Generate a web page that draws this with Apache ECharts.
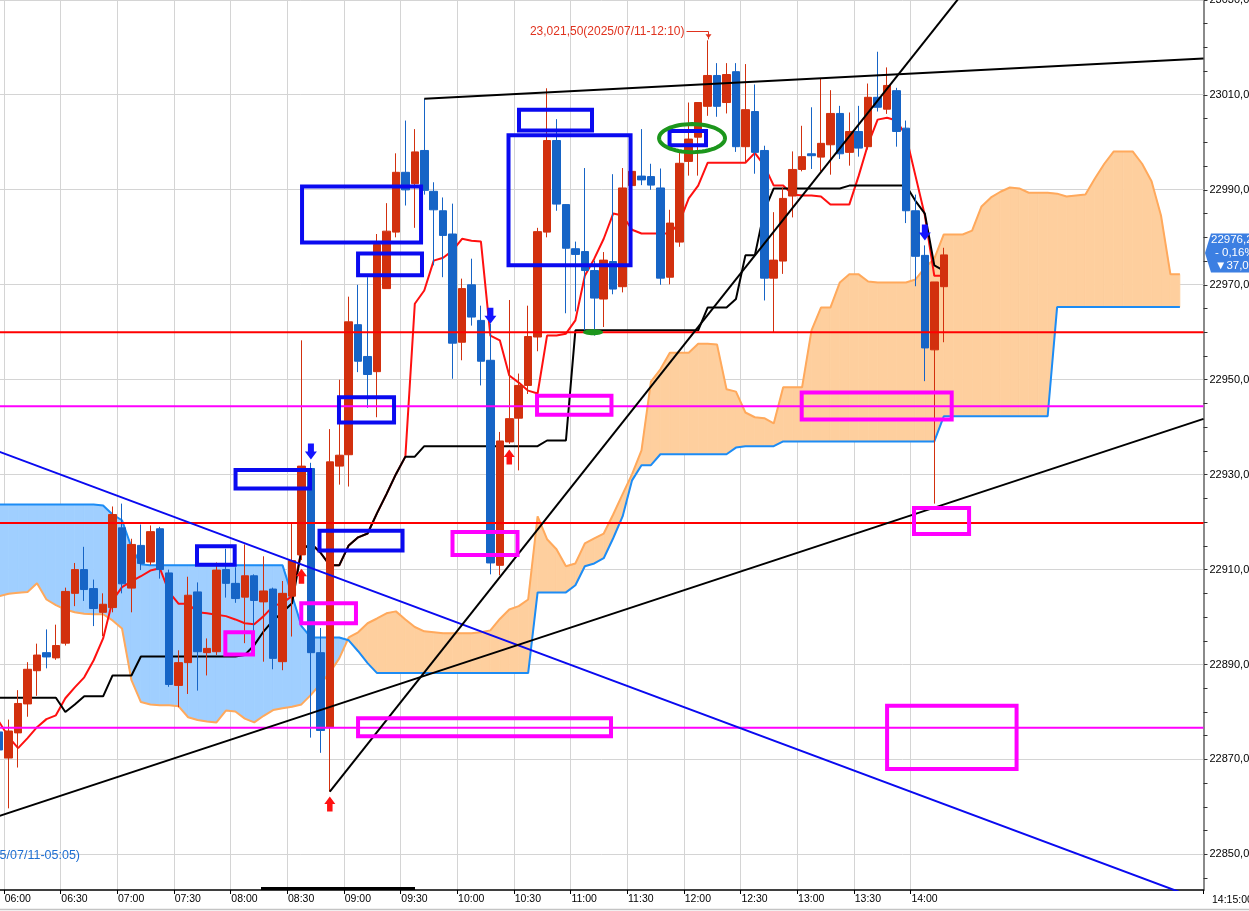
<!DOCTYPE html>
<html><head><meta charset="utf-8">
<script src="https://cdn.jsdelivr.net/npm/echarts@6/dist/echarts.min.js"></script>
<style>html,body{margin:0;padding:0;background:#fff;overflow:hidden}#c{width:1249px;height:911px}</style>
</head><body><div id="c"></div>
<script>
// ---------- DATA ----------
// categories: 5-minute bars, 05:55 .. 16:30 (128 slots)
const times = [];
for (let m = 355; m < 355 + 128 * 5; m += 5) {
  times.push(String(Math.floor(m / 60)).padStart(2, '0') + ':' + String(m % 60).padStart(2, '0'));
}
// candles [open, close, low, high], 05:55 .. 14:15
const candleOHLC = [
[22875.8,22872.0,22870.0,22877.5],[22870.3,22876.0,22859.7,22878.4],[22875.6,22881.8,22868.3,22884.6],
[22881.7,22889.0,22879.0,22890.5],[22888.7,22892.0,22883.4,22894.4],[22892.5,22891.6,22889.2,22897.4],
[22891.4,22894.0,22891.0,22898.4],[22894.5,22905.4,22894.0,22906.2],[22905.0,22910.0,22902.3,22911.4],
[22910.0,22905.8,22903.4,22914.8],[22906.0,22901.8,22898.1,22907.9],[22901.0,22902.7,22896.0,22905.0],
[22902.0,22921.6,22901.0,22923.3],[22918.8,22907.0,22905.0,22923.9],[22906.1,22915.3,22901.0,22916.5],
[22915.1,22911.3,22909.9,22919.5],[22911.6,22918.0,22911.0,22919.3],[22918.6,22910.0,22908.1,22919.0],
[22909.3,22885.8,22885.3,22910.0],[22885.6,22890.4,22881.0,22893.0],[22890.4,22904.6,22883.8,22908.5],
[22905.3,22892.7,22884.5,22907.3],[22892.5,22893.4,22887.7,22895.5],[22892.7,22909.9,22892.0,22911.5],
[22910.0,22907.1,22904.1,22914.4],[22907.1,22903.9,22903.0,22910.5],[22904.2,22908.7,22894.5,22915.3],
[22908.7,22903.5,22897.0,22909.0],[22903.2,22905.5,22890.6,22912.8],[22905.9,22891.3,22889.0,22906.2],
[22890.6,22905.0,22888.8,22907.6],[22904.4,22911.9,22895.9,22919.8],[22913.1,22931.8,22912.0,22958.3],
[22931.3,22892.5,22874.6,22932.5],[22892.5,22876.1,22871.4,22897.7],[22876.7,22932.7,22863.2,22939.6],
[22931.8,22934.1,22927.9,22950.0],[22934.2,22962.2,22927.5,22967.5],[22961.6,22953.9,22951.6,22970.0],
[22954.9,22951.1,22944.1,22971.6],[22951.7,22978.5,22942.1,22980.7],[22969.2,22981.3,22969.2,22987.2],
[22981.1,22993.7,22980.0,22997.7],[22993.7,22990.0,22986.7,23004.6],[22991.3,22998.0,22982.0,23002.8],
[22998.3,22989.9,22989.0,23009.2],[22989.7,22985.8,22974.1,22991.6],[22985.6,22980.4,22971.6,22988.4],
[22980.7,22957.7,22950.2,22987.1],[22957.9,22969.2,22954.1,22971.3],[22970.0,22963.2,22961.4,22975.5],
[22962.5,22953.9,22948.8,22965.6],[22954.1,22911.4,22909.0,22961.8],[22910.9,22937.1,22908.8,22939.0],
[22936.9,22941.8,22936.5,22966.8],[22941.9,22948.8,22930.9,22951.3],[22948.8,22959.1,22947.0,22965.6],
[22959.0,22981.2,22956.0,22982.0],[22981.1,23000.4,22980.0,23011.4],[23000.4,22987.0,22985.6,23004.9],
[22986.9,22977.7,22964.0,22987.0],[22977.6,22976.4,22964.4,22979.1],[22977.0,22973.0,22960.4,22994.6],
[22973.0,22967.2,22959.3,22975.1],[22967.0,22975.2,22961.1,22976.9],[22974.9,22969.1,22968.0,22993.3],
[22969.6,22990.4,22968.4,22994.6],[22990.9,22993.9,22990.0,22994.5],[22992.9,22992.1,22991.0,23002.8],
[22992.8,22991.0,22990.0,22995.5],[22990.4,22971.4,22970.0,22994.5],[22971.6,22983.0,22970.1,22985.8],
[22979.0,22995.6,22978.0,22998.0],[22996.0,23000.7,22993.0,23008.4],[23001.1,23008.4,22993.0,23008.4],
[23007.6,23014.1,23005.6,23021.5],[23014.1,23007.6,23005.4,23016.7],[23008.4,23014.3,23006.1,23016.7],
[23014.9,22999.1,22998.0,23016.7],[22999.1,23006.9,22995.8,23016.5],[23006.5,22997.9,22993.4,23012.2],
[22998.3,22971.4,22966.7,22999.3],[22971.4,22975.2,22960.0,22985.3],[22975.0,22988.2,22972.3,22990.5],
[22988.7,22994.3,22984.2,22998.1],[22994.3,22997.0,22993.9,23003.5],[22997.6,22997.2,22994.4,23007.4],
[22996.9,22999.8,22993.9,23013.4],[22999.5,23006.1,22993.2,23011.0],[23006.1,22997.6,22996.5,23007.7],
[22997.9,23002.3,22995.1,23006.3],[23002.3,22998.8,22997.0,23007.7],[22999.1,23009.5,22998.5,23012.4],
[23009.5,23007.4,23006.5,23019.1],[23007.0,23012.0,23006.0,23015.8],[23010.9,23002.3,22999.1,23011.5],
[23003.0,22985.6,22983.0,23004.6],[22985.6,22976.0,22969.7,22989.0],[22976.2,22956.7,22949.7,22978.3],
[22956.3,22970.6,22923.9,22970.6],[22969.6,22976.3,22957.9,22977.8]
];
// conversion line (red)
const tenkan = [
22877.9,22874.7,22872.4,22874.5,22876.8,22878.5,22879.3,22882.9,22885.2,22887.3,22890.9,22895.5,
22903.5,22906.3,22907.5,22908.6,22909.8,22910.3,22905.2,22902.8,22902.8,22901.0,22900.8,22900.5,
22900.2,22899.5,22898.7,22898.5,22900.2,22902.3,22903.0,22904.4,22914.1,22915.5,22913.6,22910.9,
22910.9,22915.1,22916.8,22917.6,22921.9,22925.9,22930.1,22933.8,22966.0,22968.8,22975.1,22975.7,
22977.2,22979.7,22979.3,22979.1,22959.3,22958.3,22950.9,22949.4,22947.7,22947.1,22959.3,22959.3,
22959.7,22962.5,22971.9,22975.5,22979.7,22985.0,22984.6,22981.6,22980.8,22980.8,22980.8,22980.8,
22983.1,22988.2,22990.9,22995.7,22995.7,22995.7,22995.7,22995.7,22997.8,22995.1,22990.9,22990.9,
22989.0,22988.8,22988.8,22988.6,22986.9,22986.9,22986.9,22993.0,22999.7,23004.8,23005.2,23004.6,
23001.4,22993.0,22984.6,22971.9,22971.9
];
// base line (black)
const kijun = [
22883.0,22883.0,22883.0,22883.0,22883.0,22883.0,22883.0,22880.0,22881.6,22883.3,22883.3,22883.3,
22887.7,22887.7,22887.7,22891.7,22891.7,22891.7,22891.7,22891.7,22891.7,22891.7,22891.7,22891.7,
22891.7,22891.7,22892.0,22894.1,22897.0,22899.3,22901.0,22902.9,22914.1,22915.5,22913.6,22910.9,
22910.9,22915.1,22916.8,22917.6,22921.9,22925.9,22930.1,22933.8,22933.8,22936.0,22936.0,22936.0,
22936.0,22936.0,22936.0,22936.0,22936.0,22936.0,22936.0,22936.0,22936.0,22936.0,22937.2,22937.2,
22937.2,22960.4,22960.4,22960.4,22960.4,22960.4,22960.4,22960.4,22960.4,22960.4,22960.4,22960.4,
22960.4,22960.4,22960.4,22965.2,22965.2,22965.2,22967.0,22976.2,22976.2,22985.6,22990.3,22990.3,
22990.3,22990.3,22990.3,22990.3,22990.3,22990.3,22990.9,22990.9,22990.9,22990.9,22990.9,22990.9,
22990.9,22987.7,22985.0,22974.1,22973.0
];
// leading span (blue line)
const spanBlue = [
22923.7,22923.7,22923.7,22923.7,22923.7,22923.7,22923.7,22923.7,22923.7,22923.7,22923.7,
22923.5,22921.6,22920.4,22914.7,22911.1,
22910.9,22910.9,22910.9,22910.9,22910.9,22910.9,22910.9,22910.9,22910.9,22910.9,22910.9,22910.9,22910.9,22910.9,22910.9,
22904.6,22898.1,22895.7,22895.7,22895.7,22895.7,22895.1,22892.8,22890.3,
22888.2,22888.2,22888.2,22888.2,22888.2,22888.2,22888.2,22888.2,22888.2,22888.2,22888.2,22888.2,22888.2,22888.2,22888.2,22888.2,22888.2,
22905.2,22905.2,22905.2,22905.2,
22906.7,22910.7,22911.3,22912.4,22916.6,22921.2,22928.8,22932.0,22932.0,
22934.3,22934.3,22934.3,22934.3,22934.3,22934.3,22934.3,22934.3,
22935.7,22936.0,22936.0,22936.0,22936.0,
22937.0,22937.0,22937.0,22937.0,22937.0,22937.0,22937.0,22937.0,22937.0,22937.0,22937.0,22937.0,22937.0,22937.0,22937.0,22937.0,22937.0,
22942.3,22942.3,22942.3,22942.3,22942.3,22942.3,22942.3,22942.3,22942.3,22942.3,22942.3,22942.3,
22965.3,22965.3,22965.3,22965.3,22965.3,22965.3,22965.3,22965.3,22965.3,22965.3,22965.3,22965.3,22965.3,22965.3
];
// leading span (orange line)
const spanOrange = [
22904.4,22904.9,22905.1,22905.3,22907.1,22903.7,22902.5,22901.6,22901.0,22900.7,22900.6,22900.6,
22899.3,22897.6,22886.7,22882.1,22881.6,22881.4,22881.4,22881.2,
22878.9,22878.3,22878.0,22877.8,22880.3,22880.1,22878.6,22877.8,22879.2,22880.4,22880.8,22881.1,22881.6,
22883.6,22885.9,22888.3,22891.3,22895.7,22896.8,22898.7,22899.7,22900.8,22901.2,22899.5,22897.9,22897.0,22896.8,
22896.6,22896.6,22896.6,22896.6,22896.8,22897.2,22899.6,22901.6,22902.3,22903.7,
22921.2,22916.4,22914.3,22910.7,22911.3,22915.5,22916.6,22917.6,22921.6,22925.9,22930.1,22935.1,22949.6,22952.2,22955.7,22955.7,22955.7,22957.6,22957.6,22957.4,
22948.0,22947.5,22943.1,22942.1,22941.9,22940.8,22948.4,22948.4,22948.4,22960.4,22965.2,22965.2,22970.5,22972.2,22972.2,22970.7,22970.5,22970.5,22970.5,22970.5,
22971.1,22973.6,22975.5,22980.6,22980.6,22980.6,22981.4,22986.5,22988.4,22989.6,22990.5,22990.3,22989.4,22989.4,22989.4,22989.2,22988.6,22988.8,22989.0,22992.4,
22995.5,22998.1,22998.1,22998.1,22995.5,22991.8,22984.6,22972.2,22972.2
];
// y tick labels and minor ticks
const yLabels = [22850,22870,22890,22910,22930,22950,22970,22990,23010,23030];
const yMinor = [22845,22850,22855,22860,22865,22870,22875,22880,22885,22890,22895,22900,22905,22910,22915,22920,
22925,22930,22935,22940,22945,22950,22955,22960,22965,22970,22975,22980,22985,22990,22995,23000,23005,23010,23015,23020,23025,23030];
// drawn annotations (x in bar offsets from 06:00, y in price)
const levelsRed = [22960.0, 22919.8];
const levelsMagenta = [22944.4, 22876.7];
const trendBlue = [[-1.5, 22935.2], [126.5, 22840.2]];
const trendLow = [[-1.5, 22857.75], [126.5, 22941.75]];
const trendSteep = [[34, 22863.2], [101, 23031.4]];
const trendTop = [[44, 23009.2], [126.5, 23017.7]];
const boxesBlue = [
[31.06,22990.7,43.66,22978.9],[36.99,22976.6,43.76,22972.0],[34.97,22946.3,40.80,22941.0],
[24.02,22931.0,31.90,22927.1],[32.91,22918.2,41.70,22914.0],[19.94,22914.9,23.93,22911.0],
[52.92,23001.5,65.84,22974.1],[54.03,23006.9,61.76,23002.5],[69.97,23002.4,73.83,22999.4]
];
const boxesMagenta = [
[22.94,22896.8,25.87,22892.1],[30.98,22902.9,36.77,22898.7],[36.99,22878.7,63.77,22874.9],
[46.99,22917.9,53.87,22913.1],[55.94,22946.6,63.82,22942.6],[83.96,22947.3,99.84,22941.6],
[95.85,22923.0,101.68,22917.5],[93.0,22881.3,106.71,22868.0]
];
const greenRing = [[72.35, 23000.9, 3.49, 2.95]];
const greenDot = [[61.87, 22960.0, 1.06, 0.63]];
const arrowsUp = [[31, 22908.6], [34, 22860.6], [53, 22933.7]];
const arrowsDown = [[32, 22934.9], [51, 22963.5], [97, 22981.0]];
const highMark = [[74, 23021.5]];
const highLabel = '23,021,50(2025/07/11-12:10)';
const lowLabel = '(2025/07/11-05:05)';
const lastPriceLines = ['22976,25', '- 0,16%', '\u25BC37,00'];
const axisEndLabel = '14:15:00';

// ---------- CHART ----------
const FONT = "'Liberation Sans', Arial, sans-serif";
const chart = echarts.init(document.getElementById('c'));
const showK = (idx) => { const k = idx - 1; return k >= 0 && k <= 96 && k % 6 === 0; };
const UPC = '#d2300e', DNC = '#1664c6';
const BLUEFILL = '#a0cfff', ORANGEFILL = '#fecf9e';

function ellipsePts(cx, cy, rx, ry) {
  const pts = [];
  for (let i = 0; i < 60; i++) { const a = i / 60 * Math.PI * 2; pts.push([cx + rx * Math.cos(a), cy + ry * Math.sin(a)]); }
  return pts;
}
function boxRender(color) {
  return function (params, api) {
    const p1 = api.coord([api.value(0), api.value(1)]);
    const p2 = api.coord([api.value(2), api.value(3)]);
    return { type: 'rect', shape: { x: Math.min(p1[0], p2[0]), y: Math.min(p1[1], p2[1]), width: Math.abs(p2[0] - p1[0]), height: Math.abs(p2[1] - p1[1]) },
      style: { fill: 'rgba(0,0,0,0)', stroke: color, lineWidth: 4 } };
  };
}
function lineSeries(data, color, width, z) {
  return { type: 'line', xAxisIndex: 1, yAxisIndex: 0, data: data, symbol: 'none', silent: true, z: z,
    lineStyle: { color: color, width: width }, clip: true, animation: false };
}
const UP_PATH = 'path://M5.5,0 L11,7.5 L8.25,7.5 L8.25,15 L2.75,15 L2.75,7.5 L0,7.5 Z';
const DN_PATH = 'path://M2.75,0 L8.25,0 L8.25,7.5 L11,7.5 L5.5,15 L0,7.5 L2.75,7.5 Z';

const series = [
  { type: 'custom', name: 'hgrid', xAxisIndex: 0, yAxisIndex: 0, z: 1, silent: true, clip: false,
    data: yLabels.map(v => [0, v]), encode: { x: 0, y: 1 },
    renderItem: (params, api) => {
      const y = Math.round(api.coord([0, api.value(1)])[1] - 0.5) + 0.5;
      const cs = params.coordSys;
      return { type: 'line', shape: { x1: cs.x, y1: y, x2: cs.x + cs.width, y2: y }, style: { stroke: '#d4d4d4', lineWidth: 1 } };
    } },
  { type: 'custom', name: 'cloud', xAxisIndex: 0, yAxisIndex: 0, z: 2, silent: true, clip: true,
    data: spanBlue.map((v, i) => [i, v, spanOrange[i]]), encode: { x: 0, y: [1, 2] },
    renderItem: (params, api) => {
      const i = params.dataIndex;
      if (i + 1 >= spanBlue.length) return;
      const a0 = spanBlue[i], a1 = spanBlue[i + 1], b0 = spanOrange[i], b1 = spanOrange[i + 1];
      const A0 = api.coord([i, a0]), A1 = api.coord([i + 1, a1]), B0 = api.coord([i, b0]), B1 = api.coord([i + 1, b1]);
      const d0 = a0 - b0, d1 = a1 - b1;
      const polys = [];
      if (d0 * d1 >= 0) polys.push({ pts: [A0, A1, B1, B0], up: (d0 + d1) >= 0 });
      else {
        const t = d0 / (d0 - d1);
        const X = [A0[0] + t * (A1[0] - A0[0]), A0[1] + t * (A1[1] - A0[1])];
        polys.push({ pts: [A0, X, B0], up: d0 > 0 });
        polys.push({ pts: [X, A1, B1], up: d1 > 0 });
      }
      return { type: 'group', children: polys.map(p => ({ type: 'polygon', shape: { points: p.pts },
        style: { fill: p.up ? BLUEFILL : ORANGEFILL, stroke: p.up ? BLUEFILL : ORANGEFILL, lineWidth: 0.8 } })) };
    } },
  { type: 'line', name: 'spanOrange', data: spanOrange, symbol: 'none', silent: true, z: 3, lineStyle: { color: '#ffa95c', width: 2 } },
  { type: 'line', name: 'spanBlue', data: spanBlue, symbol: 'none', silent: true, z: 3, lineStyle: { color: '#1c8cf5', width: 2 } },
  { type: 'line', name: 'tenkan', data: tenkan, symbol: 'none', silent: true, z: 4, lineStyle: { color: '#ff1010', width: 2 } },
  { type: 'line', name: 'kijun', data: kijun, symbol: 'none', silent: true, z: 4, lineStyle: { color: '#000000', width: 2 } },
  { type: 'candlestick', name: 'price', data: candleOHLC, barWidth: 8, silent: true, z: 5,
    itemStyle: { color: UPC, color0: DNC, borderColor: UPC, borderColor0: DNC, borderWidth: 1 } },
];
levelsRed.forEach(v => series.push(lineSeries([[-1.5, v], [126.5, v]], '#ff0000', 2, 6)));
levelsMagenta.forEach(v => series.push(lineSeries([[-1.5, v], [126.5, v]], '#ff00ff', 2, 6)));
series.push(lineSeries(trendBlue, '#0a0af0', 2, 7));
series.push(lineSeries(trendLow, '#000000', 2, 7));
series.push(lineSeries(trendSteep, '#000000', 2, 7));
series.push(lineSeries(trendTop, '#000000', 2, 7));
series.push({ type: 'custom', name: 'boxesBlue', xAxisIndex: 1, yAxisIndex: 0, z: 8, silent: true, clip: false,
  data: boxesBlue, encode: { x: [0, 2], y: [1, 3] }, renderItem: boxRender('#0a0af0') });
series.push({ type: 'custom', name: 'boxesMagenta', xAxisIndex: 1, yAxisIndex: 0, z: 8, silent: true, clip: false,
  data: boxesMagenta, encode: { x: [0, 2], y: [1, 3] }, renderItem: boxRender('#ff00ff') });
series.push({ type: 'custom', name: 'ring', xAxisIndex: 1, yAxisIndex: 0, z: 8, silent: true, clip: false,
  data: greenRing, encode: { x: 0, y: 1 },
  renderItem: (params, api) => { const c = api.coord([api.value(0), api.value(1)]); const s = api.size([api.value(2), api.value(3)]);
    return { type: 'polygon', shape: { points: ellipsePts(c[0], c[1], s[0], s[1]) }, style: { fill: 'rgba(0,0,0,0)', stroke: '#1c961c', lineWidth: 4 } }; } });
series.push({ type: 'custom', name: 'dot', xAxisIndex: 1, yAxisIndex: 0, z: 8, silent: true, clip: false,
  data: greenDot, encode: { x: 0, y: 1 },
  renderItem: (params, api) => { const c = api.coord([api.value(0), api.value(1)]); const s = api.size([api.value(2), api.value(3)]);
    return { type: 'polygon', shape: { points: ellipsePts(c[0], c[1], s[0], s[1]) }, style: { fill: '#1c961c' } }; } });
series.push({ type: 'scatter', name: 'up', xAxisIndex: 1, yAxisIndex: 0, z: 9, silent: true, data: arrowsUp,
  symbol: UP_PATH, symbolSize: [11, 15], itemStyle: { color: '#ff1212', opacity: 1 } });
series.push({ type: 'scatter', name: 'down', xAxisIndex: 1, yAxisIndex: 0, z: 9, silent: true, data: arrowsDown,
  symbol: DN_PATH, symbolSize: [12, 16], itemStyle: { color: '#1414ff', opacity: 1 } });
series.push({ type: 'custom', name: 'high', xAxisIndex: 1, yAxisIndex: 0, z: 9, silent: true, clip: false,
  data: highMark, encode: { x: 0, y: 1 },
  renderItem: (params, api) => {
    const p = api.coord([api.value(0), api.value(1)]);
    const x = Math.round(p[0]) + 0.5, yl = Math.round(p[1] - 9) + 0.5;
    const col = '#e0321e';
    return { type: 'group', children: [
      { type: 'polyline', shape: { points: [[x - 22, yl], [x, yl], [x, p[1] - 1]] }, style: { stroke: col, lineWidth: 1, fill: null } },
      { type: 'polygon', shape: { points: [[x - 3, p[1] - 6], [x + 3, p[1] - 6], [x, p[1] - 2]] }, style: { fill: col } },
      { type: 'text', style: { text: highLabel, x: x - 24, y: yl, align: 'right', verticalAlign: 'middle', textAlign: 'right', textVerticalAlign: 'middle',
        fill: col, font: "12px 'Liberation Sans', Arial, sans-serif" } }
    ] };
  } });

chart.setOption({
  animation: false,
  backgroundColor: '#ffffff',
  grid: { left: -5.5, right: 45.5, top: 0, bottom: 21, containLabel: false, outerBoundsMode: 'none' },
  xAxis: [
    { type: 'category', data: times, boundaryGap: true, position: 'bottom',
      axisLine: { show: true, onZero: false, lineStyle: { color: '#000', width: 1.5 } },
      axisTick: { show: true, interval: showK, length: 4, lineStyle: { color: '#000' } },
      axisLabel: { show: true, interval: showK, align: 'left', padding: [0, 0, 0, -4], margin: 4,
        color: '#000', fontSize: 10.5, fontFamily: FONT },
      splitLine: { show: true, interval: showK, lineStyle: { color: '#d4d4d4', width: 1 } } },
    { type: 'value', min: -1.5, max: 126.5, show: false, position: 'bottom',
      axisLine: { show: false, onZero: false }, splitLine: { show: false } }
  ],
  yAxis: [
    { type: 'value', position: 'right', min: 22842.5, max: 23030, scale: true,
      axisLine: { show: true, onZero: false, lineStyle: { color: '#8a8a8a', width: 2 } },
      axisTick: { show: false },
      axisLabel: { show: true, customValues: yLabels, formatter: v => v + ',0', color: '#000', fontSize: 11, fontFamily: FONT, margin: 6 },
      splitLine: { show: false } },
    { type: 'value', position: 'right', min: 22842.5, max: 23030, scale: true,
      axisLine: { show: false, onZero: false },
      axisTick: { show: true, customValues: yMinor, length: 4, lineStyle: { color: '#333' } },
      axisLabel: { show: false }, splitLine: { show: false } }
  ],
  graphic: [
    { type: 'rect', shape: { x: 261, y: 887, width: 154, height: 3 }, style: { fill: '#000' }, z: 100 },
    { type: 'line', shape: { x1: 0, y1: 909.5, x2: 1249, y2: 909.5 }, style: { stroke: '#c4c4c4', lineWidth: 1.5 }, z: 100 },
    { type: 'text', x: 1212, y: 900, style: { text: axisEndLabel, fill: '#000', font: "10.5px 'Liberation Sans', Arial, sans-serif", align: 'left', verticalAlign: 'middle', textAlign: 'left', textVerticalAlign: 'middle' }, z: 100 },
    { type: 'text', x: 80, y: 856, style: { text: lowLabel, fill: '#1f6fd2', font: "12.5px 'Liberation Sans', Arial, sans-serif", align: 'right', verticalAlign: 'middle', textAlign: 'right', textVerticalAlign: 'middle' }, z: 100 },
    { type: 'polygon', shape: { points: [[1205, 253], [1211, 233.5], [1249, 233.5], [1249, 272.5], [1211, 272.5]] }, style: { fill: '#3c7fe2' }, z: 100 },
    { type: 'text', x: 1211, y: 240, style: { text: lastPriceLines[0], fill: '#fff', font: "11.5px 'Liberation Sans', Arial, sans-serif", align: 'left', verticalAlign: 'middle', textAlign: 'left', textVerticalAlign: 'middle' }, z: 101 },
    { type: 'text', x: 1215, y: 253, style: { text: lastPriceLines[1], fill: '#fff', font: "11.5px 'Liberation Sans', Arial, sans-serif", align: 'left', verticalAlign: 'middle', textAlign: 'left', textVerticalAlign: 'middle' }, z: 101 },
    { type: 'text', x: 1215, y: 266, style: { text: lastPriceLines[2], fill: '#fff', font: "11.5px 'Liberation Sans', 'DejaVu Sans', sans-serif", align: 'left', verticalAlign: 'middle', textAlign: 'left', textVerticalAlign: 'middle' }, z: 101 }
  ],
  series: series
});
</script>
</body></html>
